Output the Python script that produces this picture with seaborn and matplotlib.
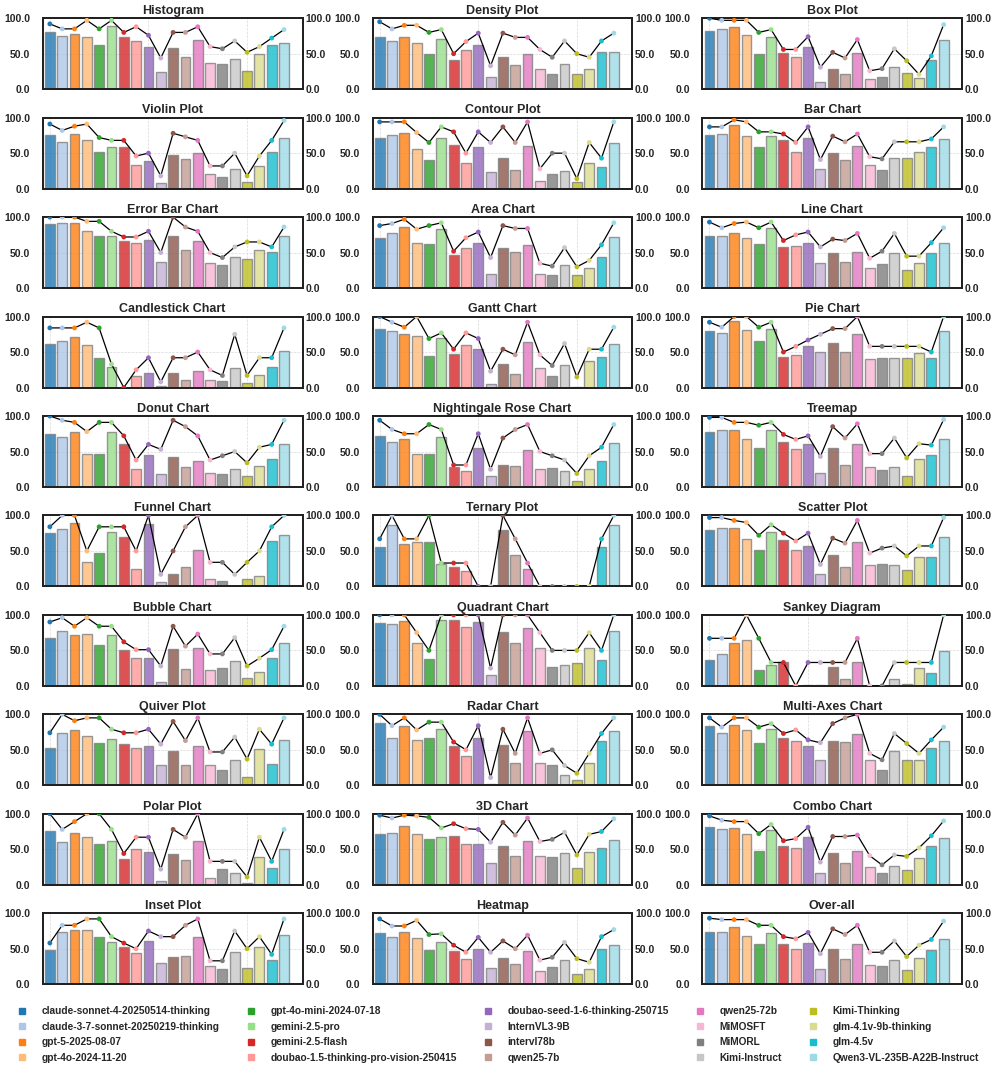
import numpy as np
import pandas as pd
import matplotlib
matplotlib.use("Agg")
import matplotlib.pyplot as plt
from matplotlib.lines import Line2D
import seaborn as sns

models = [
    "claude-sonnet-4-20250514-thinking", "claude-3-7-sonnet-20250219-thinking",
    "gpt-5-2025-08-07", "gpt-4o-2024-11-20", "gpt-4o-mini-2024-07-18",
    "gemini-2.5-pro", "gemini-2.5-flash", "doubao-1.5-thinking-pro-vision-250415",
    "doubao-seed-1-6-thinking-250715", "InternVL3-9B", "intervl78b", "qwen25-7b",
    "qwen25-72b", "MiMOSFT", "MiMORL", "Kimi-Instruct", "Kimi-Thinking",
    "glm-4.1v-9b-thinking", "glm-4.5v", "Qwen3-VL-235B-A22B-Instruct",
]

titles = [
    "Histogram", "Density Plot", "Box Plot",
    "Violin Plot", "Contour Plot", "Bar Chart",
    "Error Bar Chart", "Area Chart", "Line Chart",
    "Candlestick Chart", "Gantt Chart", "Pie Chart",
    "Donut Chart", "Nightingale Rose Chart", "Treemap",
    "Funnel Chart", "Ternary Plot", "Scatter Plot",
    "Bubble Chart", "Quadrant Chart", "Sankey Diagram",
    "Quiver Plot", "Radar Chart", "Multi-Axes Chart",
    "Polar Plot", "3D Chart", "Combo Chart",
    "Inset Plot", "Heatmap", "Over-all",
]

histogram_bar = [80, 75, 78, 74, 62, 89, 73, 68, 60, 24, 58, 46, 70, 37, 36, 43, 25, 49, 62, 65]
histogram_line = [92, 85, 85, 97, 85, 97, 80, 88, 76, 44, 80, 80, 88, 60, 57, 68, 52, 60, 72, 84]
density_bar = [74, 68, 73, 65, 49, 71, 41, 55, 62, 17, 45, 34, 50, 28, 22, 35, 22, 28, 53, 53]
density_line = [95, 85, 90, 90, 80, 84, 50, 67, 79, 33, 79, 73, 73, 56, 45, 68, 50, 45, 68, 79]
box_bar = [82, 85, 87, 76, 50, 74, 51, 46, 60, 10, 29, 22, 51, 14, 17, 32, 23, 16, 41, 69]
box_line = [100, 97, 97, 97, 80, 84, 56, 56, 74, 31, 52, 44, 70, 26, 29, 57, 40, 21, 47, 91]
violin_bar = [76, 66, 77, 69, 51, 59, 58, 34, 39, 8, 48, 42, 50, 20, 16, 28, 9, 32, 51, 71]
violin_line = [91, 82, 88, 91, 72, 68, 68, 46, 50, 18, 78, 73, 68, 32, 32, 50, 18, 46, 68, 96]
contour_bar = [71, 75, 79, 56, 40, 71, 61, 36, 59, 24, 43, 27, 60, 11, 21, 25, 9, 36, 31, 65]
contour_line = [94, 94, 94, 79, 65, 87, 80, 50, 80, 65, 87, 65, 94, 28, 50, 50, 14, 65, 43, 94]
barchart_bar = [75, 77, 89, 74, 59, 74, 69, 52, 72, 28, 50, 41, 60, 34, 26, 43, 43, 51, 59, 70]
barchart_line = [87, 87, 97, 94, 80, 80, 77, 65, 87, 41, 74, 66, 77, 45, 42, 66, 66, 66, 70, 87]
errorbar_bar = [90, 91, 92, 80, 73, 74, 66, 63, 68, 37, 74, 53, 67, 35, 32, 44, 41, 54, 51, 73]
errorbar_line = [100, 100, 100, 94, 94, 80, 72, 72, 80, 50, 100, 86, 80, 50, 43, 58, 65, 65, 58, 86]
area_bar = [71, 77, 86, 63, 62, 83, 47, 57, 64, 20, 57, 51, 61, 20, 18, 33, 19, 29, 44, 72]
area_line = [88, 91, 97, 83, 88, 92, 52, 71, 79, 43, 88, 84, 84, 35, 31, 57, 30, 39, 61, 92]
linechart_bar = [73, 74, 78, 71, 62, 85, 58, 60, 64, 36, 49, 37, 51, 28, 34, 49, 26, 35, 50, 63]
linechart_line = [93, 85, 91, 93, 85, 93, 67, 75, 79, 58, 69, 67, 77, 42, 52, 77, 45, 45, 64, 85]
candle_bar = [62, 65, 71, 60, 42, 29, 0, 17, 20, 2, 20, 10, 23, 10, 9, 27, 6, 18, 29, 52]
candle_line = [84, 84, 84, 92, 84, 33, 0, 25, 42, 8, 42, 42, 50, 25, 17, 75, 17, 42, 42, 84]
gantt_bar = [83, 79, 75, 72, 45, 70, 47, 60, 55, 5, 33, 19, 64, 27, 16, 32, 1, 37, 43, 62]
gantt_line = [100, 92, 85, 100, 69, 77, 54, 77, 69, 23, 54, 46, 92, 46, 31, 62, 15, 54, 54, 85]
pie_bar = [79, 77, 94, 81, 65, 82, 43, 46, 59, 50, 63, 50, 75, 40, 41, 42, 41, 48, 41, 79]
pie_line = [92, 85, 100, 100, 85, 92, 50, 58, 67, 75, 83, 83, 100, 58, 58, 58, 58, 58, 50, 100]
donut_bar = [74, 70, 77, 47, 47, 77, 60, 26, 45, 18, 42, 28, 36, 20, 18, 25, 15, 30, 40, 61]
donut_line = [100, 94, 91, 78, 91, 91, 72, 38, 60, 53, 94, 85, 72, 38, 44, 50, 34, 56, 60, 94]
rose_bar = [72, 64, 67, 47, 47, 70, 28, 22, 55, 15, 31, 29, 52, 26, 27, 23, 8, 25, 37, 62]
rose_line = [94, 81, 75, 75, 88, 81, 31, 31, 75, 25, 69, 81, 88, 50, 44, 38, 19, 44, 56, 88]
treemap_bar = [77, 80, 80, 67, 55, 80, 64, 53, 60, 20, 55, 31, 60, 28, 24, 28, 15, 39, 45, 67]
treemap_line = [98, 98, 91, 91, 87, 91, 74, 67, 72, 43, 85, 69, 89, 47, 47, 69, 41, 61, 59, 95]
funnel_bar = [75, 81, 90, 34, 47, 77, 69, 25, 88, 6, 17, 28, 52, 11, 8, 1, 11, 15, 64, 73]
funnel_line = [84, 100, 100, 50, 84, 84, 84, 50, 100, 17, 50, 84, 100, 34, 34, 17, 34, 50, 84, 100]
ternary_bar = [56, 86, 60, 63, 62, 31, 27, 22, 0, 0, 80, 44, 24, 0, 0, 0, 0, 0, 55, 87]
ternary_line = [67, 100, 67, 67, 100, 33, 33, 33, 0, 0, 100, 67, 33, 0, 0, 0, 0, 0, 67, 100]
scatter_bar = [80, 83, 82, 67, 51, 77, 65, 51, 57, 17, 44, 27, 63, 30, 32, 30, 23, 42, 42, 70]
scatter_line = [97, 97, 93, 90, 72, 87, 75, 64, 75, 31, 68, 61, 93, 47, 54, 57, 43, 57, 57, 97]
bubble_bar = [68, 78, 71, 73, 57, 71, 50, 39, 39, 6, 52, 24, 53, 22, 25, 35, 11, 20, 39, 61]
bubble_line = [90, 96, 84, 96, 84, 84, 62, 51, 51, 28, 84, 56, 73, 45, 45, 68, 28, 39, 51, 84]
quadrant_bar = [88, 87, 91, 61, 38, 93, 93, 83, 90, 16, 76, 60, 81, 53, 27, 30, 32, 53, 37, 78]
quadrant_line = [100, 100, 100, 75, 50, 100, 100, 100, 100, 25, 100, 100, 100, 75, 50, 50, 50, 75, 50, 100]
sankey_bar = [37, 45, 60, 65, 22, 29, 33, 0, 1, 1, 26, 10, 34, 0, 0, 10, 2, 25, 18, 49]
sankey_line = [67, 67, 67, 100, 67, 33, 33, 0, 33, 33, 33, 33, 67, 0, 0, 33, 33, 33, 33, 100]
quiver_bar = [53, 74, 78, 70, 60, 65, 58, 53, 56, 29, 48, 28, 55, 28, 21, 35, 12, 51, 30, 64]
quiver_line = [74, 100, 91, 95, 95, 79, 74, 74, 79, 58, 90, 63, 95, 47, 47, 68, 37, 79, 58, 95]
radar_bar = [88, 66, 84, 64, 66, 79, 55, 41, 66, 2, 57, 32, 76, 31, 29, 15, 7, 32, 63, 77]
radar_line = [100, 84, 95, 78, 89, 89, 61, 50, 84, 11, 79, 45, 95, 45, 50, 28, 17, 45, 73, 95]
multiaxes_bar = [84, 74, 85, 78, 60, 80, 66, 63, 56, 36, 63, 61, 73, 35, 22, 49, 36, 35, 53, 63]
multiaxes_line = [95, 82, 95, 95, 82, 87, 73, 78, 64, 60, 87, 95, 100, 45, 36, 73, 59, 45, 64, 82]
polar_bar = [76, 60, 73, 68, 57, 62, 37, 50, 46, 6, 43, 35, 62, 10, 22, 16, 3, 39, 24, 50]
polar_line = [100, 78, 89, 100, 100, 78, 44, 67, 67, 22, 78, 67, 100, 33, 33, 33, 11, 67, 33, 78]
chart3d_bar = [72, 73, 83, 71, 65, 67, 69, 57, 58, 31, 55, 41, 62, 40, 39, 45, 24, 46, 52, 63]
chart3d_line = [98, 94, 98, 97, 95, 80, 86, 79, 78, 60, 88, 70, 94, 61, 64, 74, 42, 71, 75, 93]
combo_bar = [81, 78, 80, 71, 48, 77, 54, 52, 67, 17, 45, 31, 47, 25, 16, 27, 21, 38, 55, 66]
combo_line = [97, 91, 89, 89, 72, 85, 62, 65, 81, 32, 68, 68, 70, 41, 28, 42, 40, 52, 69, 90]
inset_bar = [48, 73, 77, 77, 66, 60, 53, 44, 61, 30, 39, 40, 67, 26, 22, 46, 23, 52, 34, 69]
inset_line = [58, 83, 83, 92, 92, 67, 58, 50, 75, 67, 67, 83, 92, 33, 33, 75, 50, 67, 42, 92]
heatmap_bar = [72, 66, 73, 65, 48, 60, 47, 35, 50, 23, 37, 28, 47, 19, 24, 34, 15, 22, 50, 55]
heatmap_line = [92, 82, 82, 90, 70, 71, 55, 45, 66, 45, 61, 50, 69, 34, 38, 59, 36, 31, 67, 77]
overall_bar = [74, 74, 80, 68, 56, 72, 57, 50, 58, 22, 49, 35, 56, 27, 26, 34, 20, 37, 48, 64]
overall_line = [93, 91, 91, 91, 83, 83, 67, 64, 73, 43, 78, 70, 83, 45, 45, 61, 39, 55, 63, 89]

panels = [
    (histogram_bar, histogram_line), (density_bar, density_line), (box_bar, box_line),
    (violin_bar, violin_line), (contour_bar, contour_line), (barchart_bar, barchart_line),
    (errorbar_bar, errorbar_line), (area_bar, area_line), (linechart_bar, linechart_line),
    (candle_bar, candle_line), (gantt_bar, gantt_line), (pie_bar, pie_line),
    (donut_bar, donut_line), (rose_bar, rose_line), (treemap_bar, treemap_line),
    (funnel_bar, funnel_line), (ternary_bar, ternary_line), (scatter_bar, scatter_line),
    (bubble_bar, bubble_line), (quadrant_bar, quadrant_line), (sankey_bar, sankey_line),
    (quiver_bar, quiver_line), (radar_bar, radar_line), (multiaxes_bar, multiaxes_line),
    (polar_bar, polar_line), (chart3d_bar, chart3d_line), (combo_bar, combo_line),
    (inset_bar, inset_line), (heatmap_bar, heatmap_line), (overall_bar, overall_line),
]

sns.set_theme(style="white")
plt.rcParams["font.family"] = ["Liberation Sans", "DejaVu Sans"]

colors = sns.color_palette("tab20", 20)
palette = dict(zip(models, colors))

fig, axes = plt.subplots(10, 3, figsize=(9.96, 10.71), dpi=100)
fig.subplots_adjust(left=0.043, right=0.966, top=0.983, bottom=0.081,
                    wspace=0.27, hspace=0.40)

xpos = np.arange(len(models))
for ax, title, (bars, line) in zip(axes.flat, titles, panels):
    df = pd.DataFrame({"model": models, "bar": bars, "line": line, "x": xpos})
    sns.barplot(data=df, x="model", y="bar", hue="model", palette=palette,
                order=models, hue_order=models, legend=False, ax=ax,
                saturation=1, width=0.8, edgecolor="gray", linewidth=1.0,
                alpha=0.8, zorder=2)
    ax.set_xlim(-0.57, 20.5)
    ax.set_ylim(0, 100)
    ax.set_xticks([0, 8, 16])
    ax.set_xticklabels([])
    ax.set_yticks([0, 50, 100])
    ax.set_yticklabels(["0.0", "50.0", "100.0"], fontsize=7.5, fontweight="bold")
    ax.tick_params(axis="both", length=0)
    ax.tick_params(axis="y", pad=9)
    ax.set_xlabel("")
    ax.set_ylabel("")
    ax.grid(True, linestyle="--", linewidth=0.5, color="#d9d9d9", zorder=0)
    ax.set_axisbelow(True)
    ax.set_title(title, fontsize=9, fontweight="bold", pad=3)

    ax2 = ax.twinx()
    sns.lineplot(data=df, x="x", y="line", color="black", linewidth=0.9,
                 ax=ax2, zorder=3)
    sns.scatterplot(data=df, x="x", y="line", hue="model", palette=palette,
                    hue_order=models, legend=False, s=12, linewidth=0,
                    ax=ax2, zorder=4)
    ax2.set_ylim(0, 100)
    ax2.set_xlim(-0.57, 20.5)
    ax2.set_yticks([0, 50, 100])
    ax2.set_yticklabels(["0.0", "50.0", "100.0"], fontsize=7.5, fontweight="bold")
    ax2.tick_params(axis="y", length=0, pad=2)
    ax2.set_xlabel("")
    ax2.set_ylabel("")
    ax2.grid(False)
    for a in (ax, ax2):
        for s in a.spines.values():
            s.set_color("#222222")
            s.set_linewidth(1.4)

handles = [Line2D([0], [0], marker="s", linestyle="none", markersize=5,
                  markerfacecolor=colors[i], markeredgecolor=colors[i])
           for i in range(len(models))]
fig.legend(handles, models, loc="lower center", bbox_to_anchor=(0.5, -0.001),
           ncol=5, frameon=False, prop={"size": 7.3, "weight": "bold"},
           handlelength=1.0, handletextpad=1.4, columnspacing=2.6,
           labelspacing=0.55)

fig.savefig("out.png", dpi=100)
